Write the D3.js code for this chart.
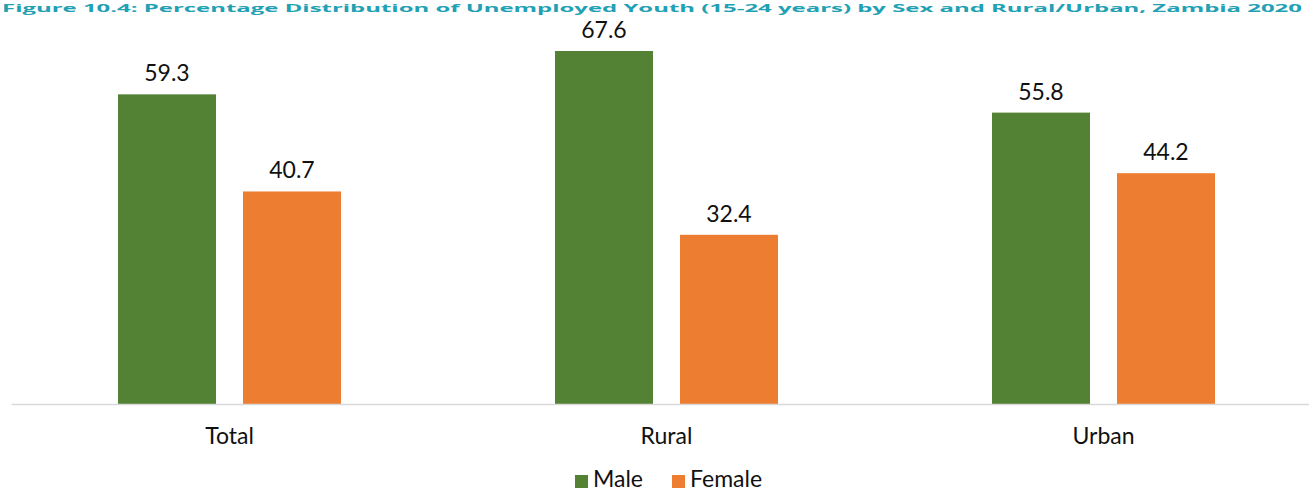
<!DOCTYPE html>
<html>
<head>
<meta charset="utf-8">
<script src="https://cdn.jsdelivr.net/npm/d3@7"></script>
<style>
  html, body { margin: 0; padding: 0; background: #fff; overflow: hidden; }
  svg { display: block; }
</style>
</head>
<body>
<svg id="chart" width="1309" height="493"></svg>
<script>
const categories = ["Total", "Rural", "Urban"];
const seriesNames = ["Male", "Female"];
const maleValues = [59.3, 67.6, 55.8];
const femaleValues = [40.7, 32.4, 44.2];
const seriesColors = ["#548235", "#ED7D31"];
const titleText = "Figure 10.4: Percentage Distribution of Unemployed Youth (15-24 years) by Sex and Rural/Urban, Zambia 2020";

const svg = d3.select("#chart");
const font = "Lato, 'Open Sans', sans-serif";
const fs = 23;

const data = categories.map((c, i) => ({ cat: c, vals: [maleValues[i], femaleValues[i]] }));

const x0 = d3.scaleBand().domain(categories).range([11, 1322]).paddingInner(0).paddingOuter(0);
const x1 = d3.scaleBand().domain(seriesNames).range([107, 330]).paddingInner(27 / 125).paddingOuter(0);
const y = d3.scaleLinear().domain([0, 67.6]).range([404, 51]);

// title
svg.append("text")
  .attr("x", 2).attr("y", 12)
  .attr("font-family", "'Open Sans', sans-serif")
  .attr("font-weight", "bold")
  .attr("font-size", 11)
  .attr("fill", "#22A0B4")
  .attr("textLength", 1300)
  .attr("lengthAdjust", "spacingAndGlyphs")
  .text(titleText);

const groups = svg.selectAll("g.grp").data(data).enter().append("g")
  .attr("class", "grp")
  .attr("transform", d => `translate(${x0(d.cat)},0)`);

groups.selectAll("rect").data(d => d.vals.map((v, j) => ({ s: seriesNames[j], v, j })))
  .enter().append("rect")
  .attr("x", d => x1(d.s))
  .attr("width", x1.bandwidth())
  .attr("y", d => y(d.v))
  .attr("height", d => y(0) - y(d.v))
  .attr("fill", d => seriesColors[d.j]);

groups.selectAll("text.val").data(d => d.vals.map((v, j) => ({ s: seriesNames[j], v, j })))
  .enter().append("text")
  .attr("class", "val")
  .attr("x", d => x1(d.s) + x1.bandwidth() / 2)
  .attr("y", d => y(d.v) - 13)
  .attr("text-anchor", "middle")
  .attr("font-family", font)
  .attr("font-size", fs)
  .attr("fill", "#111")
  .text(d => d.v.toFixed(1));

// x axis
const xAxis = d3.axisBottom(x0).tickSize(0).tickPadding(40);
const gx = svg.append("g").attr("transform", `translate(0,${y(0)})`).call(xAxis);
gx.select(".domain").attr("stroke", "#d9d9d9").attr("stroke-width", 1.5);
gx.selectAll("text").attr("dy", "0").attr("font-family", font).attr("font-size", fs).attr("fill", "#111");

// legend
const legendX = [575, 672];
const leg = svg.append("g");
seriesNames.forEach((s, i) => {
  leg.append("rect").attr("x", legendX[i]).attr("y", 475).attr("width", 13).attr("height", 13).attr("fill", seriesColors[i]);
  leg.append("text").attr("x", legendX[i] + 18).attr("y", 487)
    .attr("font-family", font).attr("font-size", fs).attr("fill", "#111").text(s);
});
</script>
</body>
</html>
